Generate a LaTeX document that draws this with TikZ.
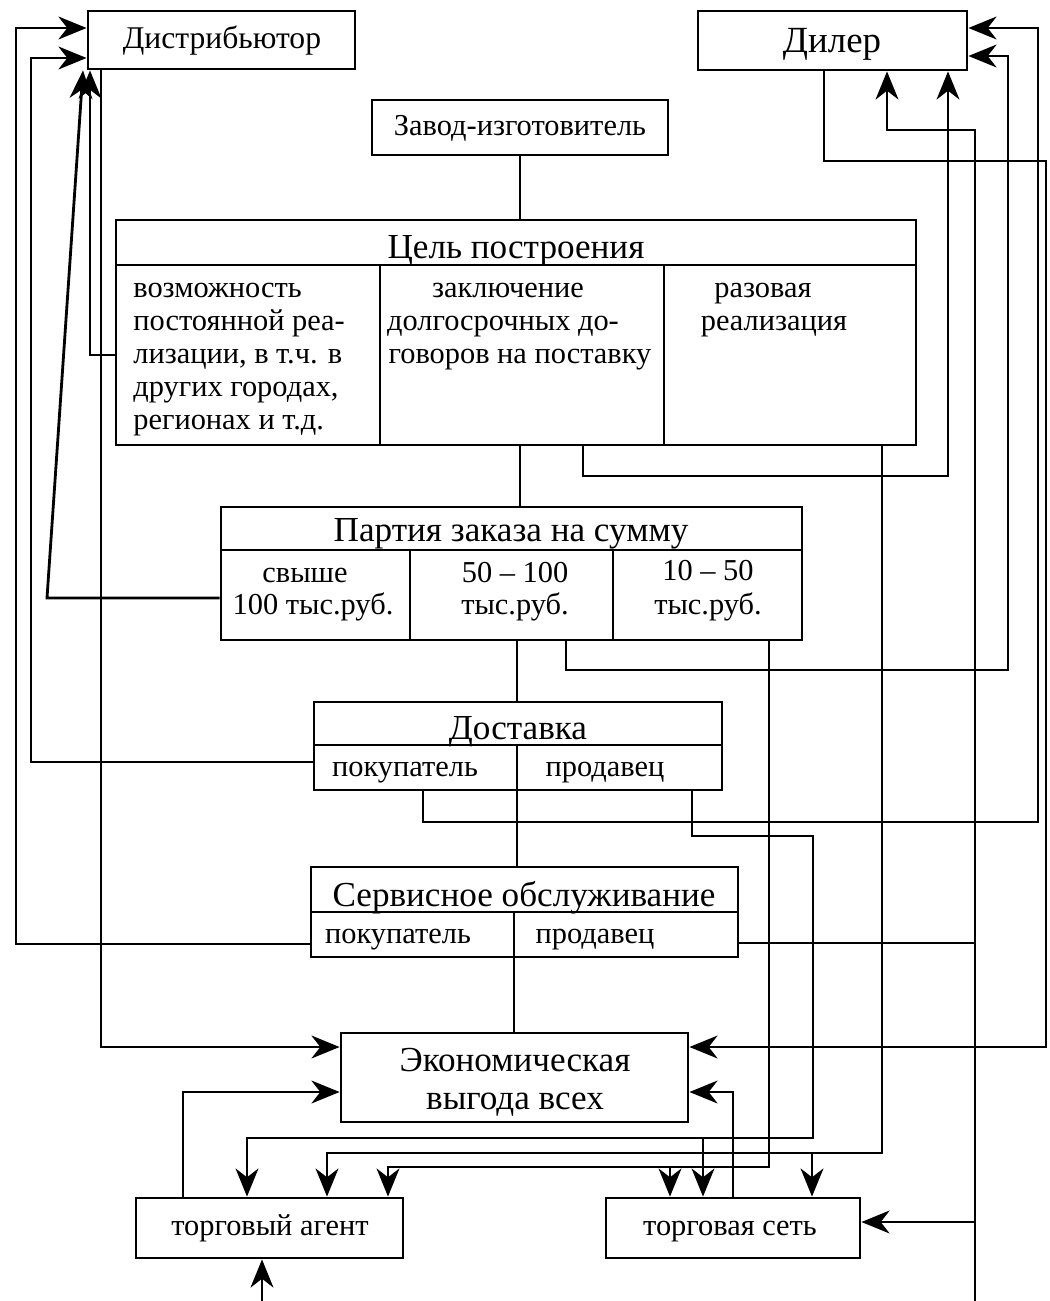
\documentclass[tikz,border=0pt]{standalone}
\usepackage{fontspec}
\setmainfont{Liberation Serif}
\usetikzlibrary{arrows.meta,fit}
\newcommand\fsz[1]{\fontsize{#1}{#1}\selectfont}
\begin{document}
\begin{tikzpicture}[x=0.02cm,y=-0.02cm,
  box/.style={draw, line width=1.6pt, inner sep=0pt},
  txt/.style={inner sep=0pt, anchor=base, font=\fsz{17.3}},
  ltxt/.style={txt, anchor=base west},
  big/.style={txt, font=\fsz{20}},
  conn/.style={line width=1.6pt},
  arr/.style={conn, -{Stealth[length=16pt,width=13pt,inset=5pt]}},
]
\useasboundingbox (0,0) rectangle (1050,1301);

% boxes
\node[box, fit={(88,11) (355,69)}] (dist) {};
\node[txt, font=\fsz{18}] (distT) at (222,49) {Дистрибьютор};
\node[box, fit={(698,11) (967,70)}] (dil) {};
\node[txt, font=\fsz{21}] (dilT) at (832,53) {Дилер};
\node[box, fit={(372,100) (668,155)}] (zav) {};
\node[txt] (zavT) at (520,135) {Завод-изготовитель};

\node[box, fit={(116,220) (916,445)}] (cel) {};
\node[box, fit={(116,265) (380,445)}] (celA) {};
\node[box, fit={(380,265) (664,445)}] (celB) {};
\node[box, fit={(664,265) (916,445)}] (celC) {};
\node[big] (celH) at (516,258) {Цель построения};
\node[ltxt] (a1) at (133,297) {возможность};
\node[ltxt] (a2) at (133,330) {постоянной реа-};
\node[ltxt] (a3) at (133,363) {лизации, в т.ч. в};
\node[ltxt] (a4) at (133,396) {других городах,};
\node[ltxt] (a5) at (133,429) {регионах и т.д.};
\node[txt] (b1) at (508,297) {заключение};
\node[txt] (b2) at (503,330) {долгосрочных до-};
\node[txt] (b3) at (520,363) {говоров на поставку};
\node[txt] (c1) at (763,297) {разовая};
\node[txt] (c2) at (774,330) {реализация};

\node[box, fit={(221,507) (802,640)}] (partia) {};
\node[box, fit={(221,550) (410,640)}] (partiaA) {};
\node[box, fit={(410,550) (613,640)}] (partiaB) {};
\node[box, fit={(613,550) (802,640)}] (partiaC) {};
\node[big] (pH) at (511,541) {Партия заказа на сумму};
\node[txt] (p1) at (305,582) {свыше};
\node[txt] (p2) at (313,614) {100 тыс.руб.};
\node[txt] (p3) at (515,582) {50 – 100};
\node[txt] (p4) at (515,614) {тыс.руб.};
\node[txt] (p5) at (708,580) {10 – 50};
\node[txt] (p6) at (708,614) {тыс.руб.};

\node[box, fit={(314,702) (722,790)}] (dost) {};
\node[box, fit={(314,745) (517,790)}] (dostA) {};
\node[box, fit={(517,745) (722,790)}] (dostB) {};
\node[big] (dH) at (518,739) {Доставка};
\node[txt] (d1) at (405,776) {покупатель};
\node[txt] (d2) at (605,776) {продавец};

\node[box, fit={(311,867) (738,957)}] (serv) {};
\node[box, fit={(311,912) (514,957)}] (servA) {};
\node[box, fit={(514,912) (738,957)}] (servB) {};
\node[big] (sH) at (524,906) {Сервисное обслуживание};
\node[txt] (s1) at (398,943) {покупатель};
\node[txt] (s2) at (595,943) {продавец};

\node[box, fit={(341,1033) (688,1122)}] (econ) {};
\node[big] (e1) at (515,1071) {Экономическая};
\node[big] (e2) at (515,1109) {выгода всех};

\node[box, fit={(136,1198) (403,1258)}] (agent) {};
\node[txt] (agT) at (270,1235) {торговый агент};
\node[box, fit={(606,1198) (860,1258)}] (set) {};
\node[txt] (seT) at (730,1235) {торговая сеть};

% trunk
\draw[conn] (zav.south -| 520,0) -- (cel.north -| 520,0);
\draw[conn] (cel.south -| 520,0) -- (partia.north -| 520,0);
\draw[conn] (partia.south -| 517,0) -- (dost.north -| 517,0);
\draw[conn] (dostA.south -| 517,0) -- (serv.north -| 517,0);
\draw[conn] (servA.south -| 514,0) -- (econ.north -| 514,0);

% left side
\draw[arr] (servA.west |- 0,944) -- (16,944) -- (16,28) -- (dist.west |- 0,28);
\draw[arr] (dostA.west |- 0,762) -- (31,762) -- (31,58) -- (dist.west |- 0,58);
\draw[arr] (celA.west |- 0,355) -- (90,355) -- (dist.south -| 90,0);
\draw[arr] (partiaA.west |- 0,598) -- (47,598) -- (dist.south -| 83,0);
\draw[arr] (dist.south -| 101,0) |- (econ.west |- 0,1047);

% right side
\draw[arr] (dil.south -| 824,0) |- (1046,161) -- (1046,1047) -- (econ.east |- 0,1047);
\draw[arr] (celB.south -| 583,0) |- (948,476) -- (dil.south -| 948,0);
\draw[arr] (partiaB.south -| 566,0) |- (1008,670) -- (1008,56) -- (dil.east |- 0,56);
\draw[arr] (dostA.south -| 423,0) |- (1038,822) -- (1038,28) -- (dil.east |- 0,28);
\draw[conn] (servB.east |- 0,943) -- (975,943);
\draw[arr] (975,1301) -- (975,130) -- (887,130) -- (dil.south -| 887,0);
\draw[arr] (975,1222) -- (set.east |- 0,1222);

% to agent and network
\draw[arr] (celC.south -| 882,0) |- (327,1153) -- (agent.north -| 327,0);
\draw[arr] (812,1153) -- (set.north -| 812,0);
\draw[arr] (partiaC.south -| 769,0) |- (388,1167) -- (agent.north -| 388,0);
\draw[arr] (670,1167) -- (set.north -| 670,0);
\draw[arr] (dostB.south -| 692,0) |- (813,836) |- (247,1138) -- (agent.north -| 247,0);
\draw[arr] (703,1138) -- (set.north -| 703,0);

\draw[arr] (agent.north -| 183,0) |- (econ.west |- 0,1092);
\draw[arr] (set.north -| 733,0) |- (econ.east |- 0,1092);
\draw[arr] (262,1301) -- (agent.south -| 262,0);
\end{tikzpicture}
\end{document}
